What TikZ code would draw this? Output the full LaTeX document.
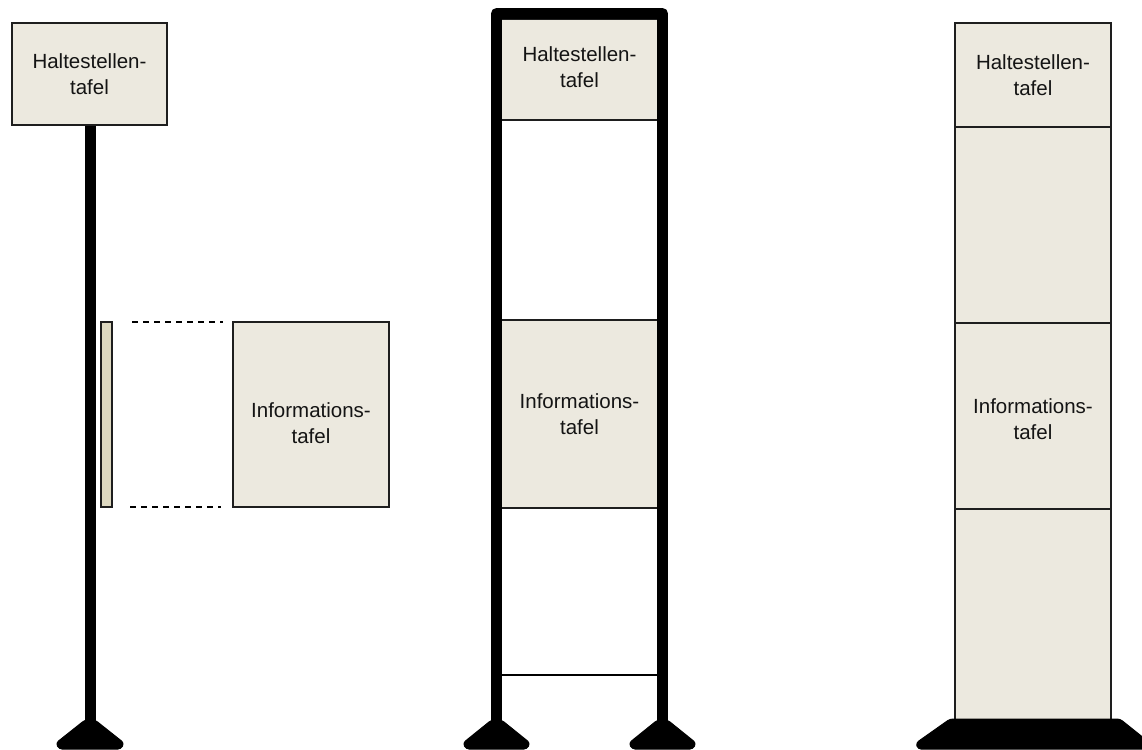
\documentclass[tikz,border=0pt]{standalone}
\usepackage{fontspec}
\setmainfont{Liberation Sans}
\definecolor{panel}{HTML}{ECE9DF}
\definecolor{panelside}{HTML}{DDD8C0}
\definecolor{edge}{HTML}{1E1E1E}
\begin{document}
\begin{tikzpicture}[x=1pt,y=-1pt,
  every node/.style={inner sep=0pt,outer sep=0pt},
  board/.style={draw=edge,line width=1.4pt,fill=panel,align=center,
    font=\fontsize{20.5}{25.5}\selectfont,text=black!92},
  label/.style={align=center,font=\fontsize{20.5}{25.5}\selectfont,text=black!92},
  seg/.style={draw=edge,line width=1.4pt,fill=panel},
  pole/.style={line width=11pt,draw=black},
  foot/.style={fill=black,draw=black,line width=1pt,rounded corners=3pt},
  dashline/.style={draw=black,line width=1.3pt,dash pattern=on 6pt off 5pt}]
\useasboundingbox (0,0) rectangle (1142,749);

% ---------- left: pole with sign ----------
\coordinate (lbase) at (90,721);
\draw[pole] (90,124) -- (lbase);
\node[board,minimum width=155,minimum height=102] (lsign) at (89.5,74) {Haltestellen-\\tafel};
\draw[foot] (85,720) -- (95,720) -- (124,743) -- (121,749) -- (59,749) -- (56,743) -- cycle;
\node[draw=edge,line width=1.2pt,fill=panelside,minimum width=11,minimum height=185] (lside) at (106.5,414.5) {};
\node[board,minimum width=156,minimum height=185] (linfo) at (311,414.5) {};
\node[label] (linfotext) at (311,423) {Informations-\\tafel};
\draw[dashline] ([xshift=20]lside.north east) -- ([xshift=-10]linfo.north west);
\draw[dashline] ([xshift=18]lside.south east) -- ([xshift=-12]linfo.south west);

% ---------- middle: frame ----------
\node[seg,minimum width=156,minimum height=101] (msign) at (579.5,69.5) {};
\node[label] (msigntext) at (579.5,67) {Haltestellen-\\tafel};
\node[seg,draw=none,minimum width=156,minimum height=188] (minfo) at (579.5,414) {};
\node[label] (minfotext) at (579.5,414) {Informations-\\tafel};
\draw[edge,line width=1.4pt] (msign.south west) -- (msign.south east);
\draw[edge,line width=1.4pt] (minfo.north west) -- (minfo.north east);
\draw[edge,line width=1.4pt] (minfo.south west) -- (minfo.south east);
\coordinate (mrungL) at (502,675);
\coordinate (mrungR) at (657,675);
\draw[black,line width=2.2pt] (mrungL) -- (mrungR);
\coordinate (mfl) at (496.5,721);
\coordinate (mfr) at (662.5,721);
\draw[pole,line join=round] (mfl) -- (496.5,13.5) -- (662.5,13.5) -- (mfr);
\draw[foot] (491.5,720) -- (501.5,720) -- (530,743) -- (527,749) -- (466,749) -- (463,743) -- cycle;
\draw[foot] (657.5,720) -- (667.5,720) -- (696,743) -- (693,749) -- (632,749) -- (629,743) -- cycle;

% ---------- right: column ----------
\node[seg,minimum width=156,minimum height=104] (rsign) at (1033,75) {};
\node[label] (rsigntext) at (1033,75) {Haltestellen-\\tafel};
\node[seg,minimum width=156,minimum height=196] (rmid) at (1033,225) {};
\node[seg,minimum width=156,minimum height=186] (rinfo) at (1033,416) {};
\node[label] (rinfotext) at (1033,419) {Informations-\\tafel};
\node[seg,minimum width=156,minimum height=211] (rlow) at (1033,614.5) {};
\draw[foot] (950,719) -- (1120,719) -- (1150,743) -- (1148,749) -- (918,749) -- (916,743) -- cycle;
\end{tikzpicture}
\end{document}
